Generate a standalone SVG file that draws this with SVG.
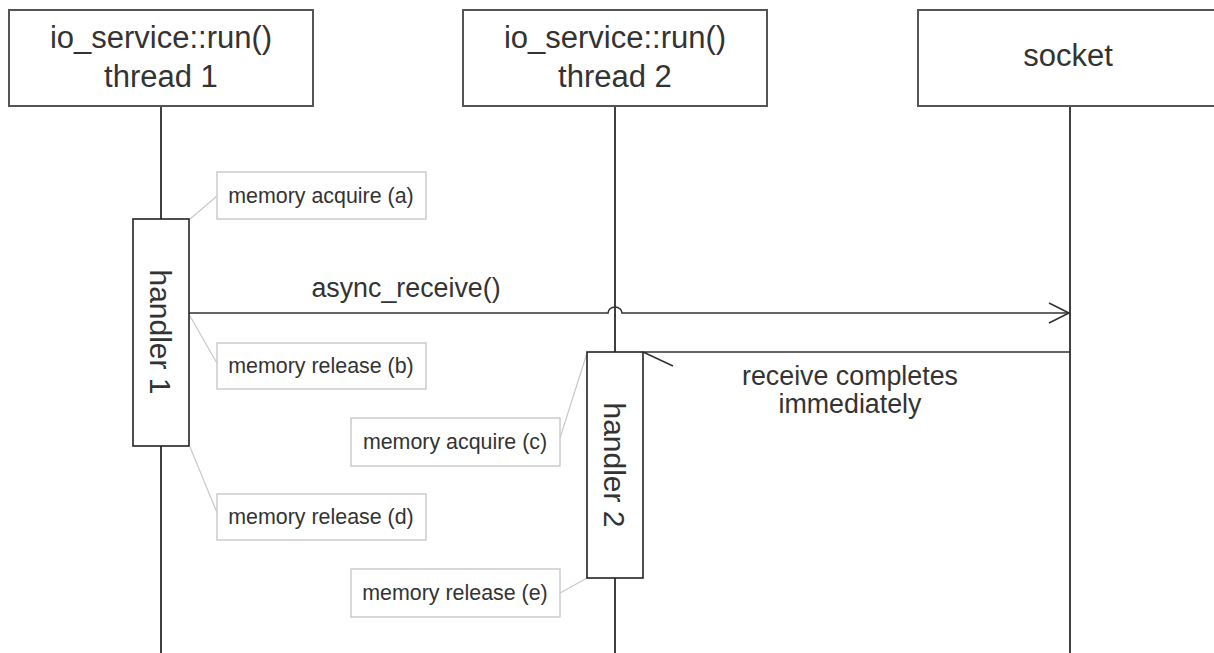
<svg xmlns="http://www.w3.org/2000/svg" width="1214" height="653" viewBox="0 0 1214 653">
<style>
.hdr{fill:#fff;stroke:#555;stroke-width:2}
.act{fill:#fff;stroke:#222;stroke-width:1.6}
.note{fill:#fff;stroke:#ccc;stroke-width:1.5}
.t{font-family:"Liberation Sans",Arial,sans-serif;fill:#333;text-anchor:middle}
.h{font-size:31px}
.hd{font-size:30px}
.l{font-size:26.8px}
.n{font-size:21.4px}
.life{stroke:#111;stroke-width:1.6;fill:none}
.msg{stroke:#333;stroke-width:1.6;fill:none}
.lead{stroke:#c8c8c8;stroke-width:1.2;fill:none}
</style>
<rect width="1214" height="653" fill="#fff"/>
<g id="connectors">
<path class="life" d="M161 106V219M161 446V653"/>
<path class="life" d="M615 106V353M615 578V653"/>
<path class="life" d="M1070 106V653"/>
<path class="msg" d="M189 313H608A7 6 0 0 1 622 313H1069"/>
<path class="msg" d="M1049 303L1069 313L1049 323"/>
<path class="msg" d="M643 352H1070M643 352L673 366"/>
<path class="lead" d="M190 219L217 196"/>
<path class="lead" d="M190 316L218 365"/>
<path class="lead" d="M190 447L218 515"/>
<path class="lead" d="M560 438L587 353"/>
<path class="lead" d="M560 593L587 578"/>
<text class="t l" x="406" y="297">async_receive()</text>
<text class="t l" x="850" y="385">receive completes</text>
<text class="t l" x="850" y="413">immediately</text>
</g>
<g id="thread1">
<rect class="hdr" x="9" y="10" width="304" height="96"/>
<text class="t h" x="161" y="48">io_service::run()</text>
<text class="t h" x="161" y="87">thread 1</text>
</g>
<g id="thread2">
<rect class="hdr" x="463" y="10" width="304" height="96"/>
<text class="t h" x="615" y="48">io_service::run()</text>
<text class="t h" x="615" y="87">thread 2</text>
</g>
<g id="socket">
<rect class="hdr" x="918" y="10" width="304" height="96"/>
<text class="t h" x="1068" y="66">socket</text>
</g>
<g id="handler1">
<rect class="act" x="133" y="219" width="56" height="227"/>
<text class="t hd" transform="translate(150 332) rotate(90)" x="0" y="0">handler 1</text>
</g>
<g id="handler2">
<rect class="act" x="587" y="352" width="56" height="226"/>
<text class="t hd" transform="translate(604 465) rotate(90)" x="0" y="0">handler 2</text>
</g>
<g id="noteA">
<rect class="note" x="217" y="172" width="209" height="47"/>
<text class="t n" x="321" y="203">memory acquire (a)</text>
</g>
<g id="noteB">
<rect class="note" x="217" y="343" width="209" height="46"/>
<text class="t n" x="321" y="373">memory release (b)</text>
</g>
<g id="noteC">
<rect class="note" x="351" y="418" width="209" height="48"/>
<text class="t n" x="455" y="449">memory acquire (c)</text>
</g>
<g id="noteD">
<rect class="note" x="217" y="494" width="209" height="46"/>
<text class="t n" x="321" y="524">memory release (d)</text>
</g>
<g id="noteE">
<rect class="note" x="351" y="569" width="209" height="48"/>
<text class="t n" x="455" y="600">memory release (e)</text>
</g>
</svg>
